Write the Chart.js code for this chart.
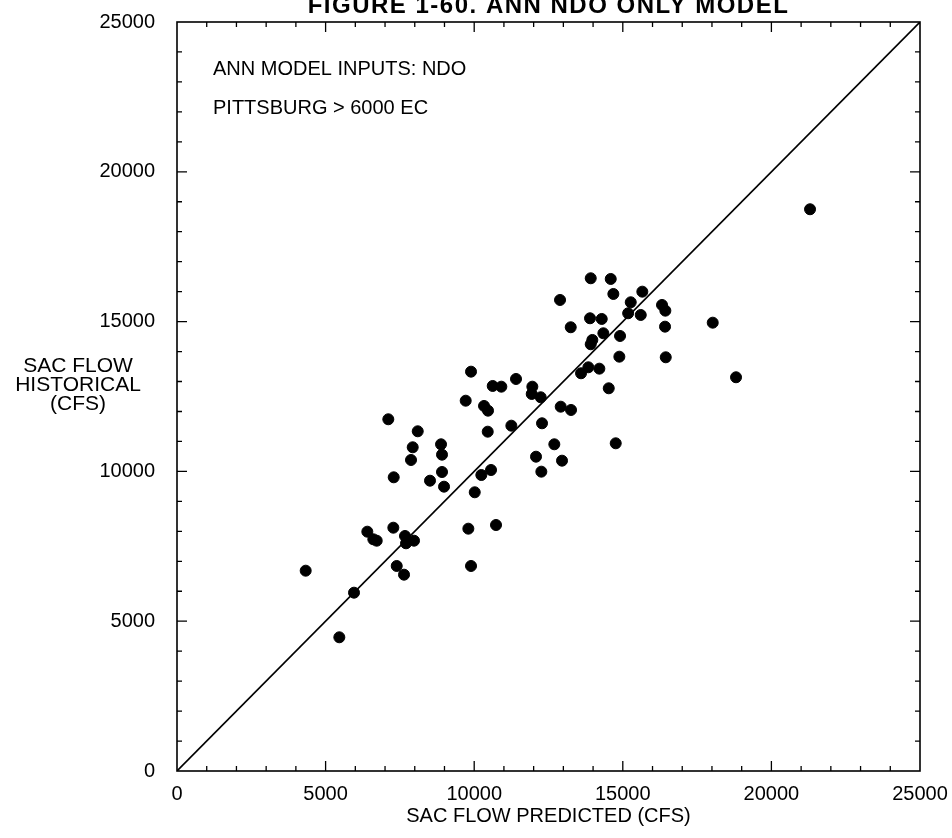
<!DOCTYPE html>
<html>
<head>
<meta charset="utf-8">
<script src="https://cdn.jsdelivr.net/npm/chart.js@4/dist/chart.umd.min.js"></script>
<style>
  html, body { margin: 0; padding: 0; background: #fff; }
  #chart { display: block; }
</style>
</head>
<body>
<canvas id="chart" width="952" height="838"></canvas>
<script>
// predicted (x) vs historical (y) sac flow, cfs
const predicted = [
  4330, 5462, 5956, 6404, 6606, 6720, 7279, 7393, 7639, 7672,
  7706, 7975, 7110, 7292, 8100, 7931, 7874, 8884, 8917, 8917,
  8513, 8985, 9893, 9714, 10331, 10465, 10623, 10913, 10455, 11407,
  11250, 10240, 10566, 10018, 9803, 10734, 9893, 11956, 11935, 12238,
  12282, 12696, 12080, 12259, 12955, 12888, 12911, 13258, 13248, 13897,
  14291, 13975, 13921, 14346, 14907, 14884, 13595, 13841, 14211, 14527,
  14762, 14682, 15180, 15604, 13921, 14594, 15657, 15267, 16320, 16432,
  16421, 16445, 18026, 18810, 21300
];
const historical = [
  6686, 4463, 5952, 7988, 7734, 7687, 8121, 6843, 6553, 7844,
  7600, 7687, 11740, 9803, 11339, 10805, 10381, 10905, 10558, 9980,
  9690, 9490, 13329, 12360, 12184, 12027, 12851, 12828, 11326, 13085,
  11526, 9880, 10047, 9303, 8088, 8211, 6843, 12828, 12584, 12474,
  11606, 10905, 10491, 9991, 10358, 15722, 12160, 12050, 14811, 15111,
  15088, 14387, 14243, 14610, 14520, 13829, 13275, 13475, 13429, 12774,
  10938, 15922, 15278, 15221, 16446, 16423, 15999, 15645, 15555, 15365,
  14831, 13809, 14964, 13142, 18750
];
// 1:1 reference line
const lineX = [0, 25000];
const lineY = [0, 25000];

const axisMin = 0;
const axisMax = 25000;
const majorStep = 5000;
const minorStep = 1000;

const titleText = "FIGURE 1-60. ANN NDO ONLY MODEL";
const notes = ["ANN MODEL INPUTS: NDO", "PITTSBURG > 6000 EC"];
const yTitle = ["SAC FLOW", "HISTORICAL", "(CFS)"];
const xTitle = "SAC FLOW PREDICTED (CFS)";

const FONT = "'Liberation Sans', Arial, sans-serif";

// box, inside ticks on all four sides, and the text bits
const framePlugin = {
  id: "frame",
  afterDraw(chart) {
    const { ctx, chartArea: a, scales } = chart;
    const xs = scales.x, ys = scales.y;
    ctx.save();
    ctx.strokeStyle = "#000";
    ctx.lineWidth = 1.6;
    ctx.strokeRect(a.left, a.top, a.right - a.left, a.bottom - a.top);

    ctx.lineWidth = 1.3;
    ctx.beginPath();
    for (let v = axisMin + minorStep; v < axisMax; v += minorStep) {
      const len = v % majorStep === 0 ? 10 : 5;
      const px = xs.getPixelForValue(v);
      const py = ys.getPixelForValue(v);
      ctx.moveTo(px, a.bottom); ctx.lineTo(px, a.bottom - len);
      ctx.moveTo(px, a.top); ctx.lineTo(px, a.top + len);
      ctx.moveTo(a.left, py); ctx.lineTo(a.left + len, py);
      ctx.moveTo(a.right, py); ctx.lineTo(a.right - len, py);
    }
    ctx.stroke();

    ctx.fillStyle = "#000";
    // title, cut at the top like the scan
    ctx.font = "bold 24px " + FONT;
    ctx.letterSpacing = "1.5px";
    ctx.textAlign = "center";
    ctx.textBaseline = "alphabetic";
    ctx.fillText(titleText, (a.left + a.right) / 2, 13);
    ctx.letterSpacing = "0px";

    // notes inside plot
    ctx.font = "20px " + FONT;
    ctx.textAlign = "left";
    ctx.textBaseline = "middle";
    notes.forEach((t, i) => ctx.fillText(t, a.left + 36, 69 + i * 39));

    // y title, stacked horizontal
    ctx.font = "21px " + FONT;
    ctx.textAlign = "center";
    yTitle.forEach((t, i) => ctx.fillText(t, 78, 366 + i * 19));

    // x title
    ctx.font = "20px " + FONT;
    ctx.fillText(xTitle, (a.left + a.right) / 2, 816);
    ctx.restore();
  }
};

const noPad = (s) => {
  s.paddingTop = 0; s.paddingBottom = 0;
  s.paddingLeft = 0; s.paddingRight = 0;
};

new Chart(document.getElementById("chart"), {
  type: "scatter",
  data: {
    datasets: [
      {
        label: "observations",
        data: predicted.map((x, i) => ({ x: x, y: historical[i] })),
        backgroundColor: "#000",
        borderColor: "#000",
        pointRadius: 5.5,
        pointHoverRadius: 5.5,
      },
      {
        label: "1:1",
        data: lineX.map((x, i) => ({ x: x, y: lineY[i] })),
        showLine: true,
        borderColor: "#000",
        borderWidth: 1.6,
        pointRadius: 0,
      },
    ],
  },
  options: {
    responsive: false,
    animation: false,
    devicePixelRatio: 1,
    layout: { padding: { top: 22, right: 32, left: 0, bottom: 0 } },
    plugins: {
      legend: { display: false },
      tooltip: { enabled: false },
    },
    scales: {
      x: {
        type: "linear",
        min: axisMin,
        max: axisMax,
        afterFit: (s) => { s.height = 67; noPad(s); },
        grid: { display: false, drawTicks: false },
        border: { display: false },
        ticks: {
          stepSize: majorStep,
          padding: 11,
          color: "#000",
          font: { family: FONT, size: 20 },
          maxRotation: 0,
          callback: (v) => String(v),
        },
      },
      y: {
        type: "linear",
        min: axisMin,
        max: axisMax,
        afterFit: (s) => { s.width = 177; noPad(s); },
        grid: { display: false, drawTicks: false },
        border: { display: false },
        ticks: {
          stepSize: majorStep,
          padding: 22,
          color: "#000",
          font: { family: FONT, size: 20 },
          callback: (v) => String(v),
        },
      },
    },
  },
  plugins: [framePlugin],
});
</script>
</body>
</html>
